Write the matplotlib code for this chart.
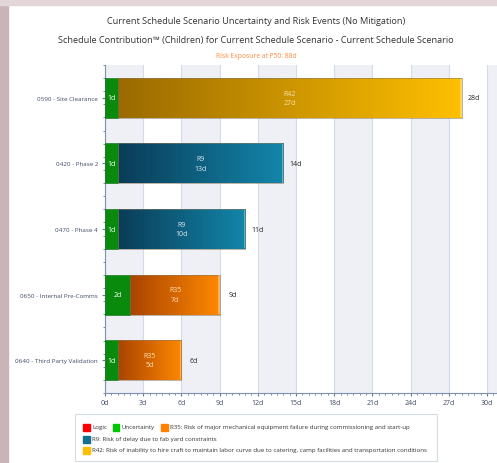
import numpy as np
import matplotlib
matplotlib.use("Agg")
from matplotlib import pyplot as plt
from matplotlib.patches import Rectangle
from matplotlib.colors import LinearSegmentedColormap

plt.rcParams['font.family'] = ['Open Sans', 'DejaVu Sans']

tasks = ["0590 - Site Clearance", "0420 - Phase 2", "0470 - Phase 4",
         "0650 - Internal Pre-Comms", "0640 - Third Party Validation"]
uncertainty = [1, 1, 1, 2, 1]
risk_names = ["R42", "R9", "R9", "R35", "R35"]
risk_values = [27, 13, 10, 7, 5]
totals = [28, 14, 11, 9, 6]
x_ticks = [0, 3, 6, 9, 12, 15, 18, 21, 24, 27, 30]

legend_rows = [
    [("Logic", "#ff0000"), ("Uncertainty", "#00c800"),
     ("R35: Risk of major mechanical equipment failure during commissioning and start-up", "#ff8000")],
    [("R9: Risk of delay due to fab yard constraints", "#15708f")],
    [("R42: Risk of inability to hire craft to maintain labor curve due to catering, camp facilities and transportation conditions", "#ffbf00")],
]

risk_colors = {
    "R42": ("#9a6a00", "#ffc000", "#f5e4b0"),
    "R9": ("#0a3c57", "#1386aa", "#dce9f0"),
    "R35": ("#a94400", "#ff8800", "#ffe0c0"),
}

W, H = 497, 464
fig = plt.figure(figsize=(W / 100, H / 100), dpi=100)
fig.patch.set_facecolor("white")

# screenshot frame
fig.add_artist(Rectangle((0, 0), 8 / W, 1, transform=fig.transFigure, color="#c9b4b7", zorder=0))
fig.add_artist(Rectangle((0, 1 - 6 / H), 1, 6 / H, transform=fig.transFigure, color="#e2d6d8", zorder=0))

ax = fig.add_axes([105 / W, 1 - 394 / H, (W - 105) / W, 328 / H])
xmax = (W - 105) / (382 / 30)
ax.set_xlim(0, xmax)
ax.set_ylim(len(tasks) - 0.5, -0.5)

# alternating bands + grid
for x0 in range(0, 33, 6):
    ax.axvspan(x0, x0 + 3, color="#eef0f6", zorder=0, lw=0)
for x in x_ticks:
    ax.axvline(x, color="#d3dbea", lw=0.8, zorder=0.5)

bar_h = 0.61


def gradient_bar(y, left, width, c0, c1):
    bar = ax.barh(y, width, left=left, height=bar_h, color="none",
                  edgecolor="#8a7a60", lw=0.4, zorder=3)[0]
    cmap = LinearSegmentedColormap.from_list("g", [c0, c1])
    grad = np.linspace(0, 1, 256).reshape(1, -1)
    im = ax.imshow(grad, cmap=cmap, aspect="auto", zorder=2,
                   extent=(left, left + width, y + bar_h / 2, y - bar_h / 2))
    im.set_clip_path(bar)
    # light highlight at the right end of the bar
    ax.barh(y, 0.12, left=left + width - 0.12, height=bar_h * 0.96, color="white",
            alpha=0.35, lw=0, zorder=3)
    return bar


for i, task in enumerate(tasks):
    ax.barh(i, uncertainty[i], height=bar_h, color="#0a8a0c", edgecolor="#0a6a0c", lw=0.4, zorder=3)
    ax.text(uncertainty[i] / 2, i, f"{uncertainty[i]}d", color="white", fontsize=5,
            ha="center", va="center", zorder=4)
    c0, c1, tc = risk_colors[risk_names[i]]
    gradient_bar(i, uncertainty[i], risk_values[i], c0, c1)
    ax.text(uncertainty[i] + risk_values[i] / 2, i, f"{risk_names[i]}\n{risk_values[i]}d",
            color=tc, fontsize=5, ha="center", va="center", linespacing=1.5, zorder=4)
    ax.text(totals[i] + 1, i, f"{totals[i]}d", color="#222222", fontsize=5,
            ha="center", va="center", zorder=4)

ax.set_xlim(0, xmax)
ax.set_ylim(len(tasks) - 0.5, -0.5)

ax.set_xticks(x_ticks)
ax.set_xticklabels([f"{x}d" for x in x_ticks])
ax.set_xticks(np.arange(0, 31, 0.5), minor=True)
ax.set_yticks(range(len(tasks)))
ax.set_yticklabels(tasks)
ax.set_yticks(np.arange(-0.5, len(tasks) - 0.4, 0.2), minor=True)
ax.tick_params(axis="both", labelsize=5, colors="#6a7a9a", labelcolor="#3e4a66")
ax.tick_params(axis="y", labelsize=4.5)
ax.tick_params(axis="x", which="major", length=2.5, pad=2)
ax.tick_params(axis="y", which="major", length=2.5, pad=2.5)
ax.tick_params(which="minor", length=1.2, colors="#6a7a9a")
for s in ["top", "right"]:
    ax.spines[s].set_visible(False)
for s in ["left", "bottom"]:
    ax.spines[s].set_color("#8090b0")
    ax.spines[s].set_linewidth(0.8)
ax.set_facecolor("white")

# titles
fig.text(256 / W, 1 - 21 / H, "Current Schedule Scenario Uncertainty and Risk Events (No Mitigation)",
         ha="center", va="center", fontsize=6.55, color="#333333")
fig.text(256 / W, 1 - 40 / H, "Schedule Contribution™ (Children) for Current Schedule Scenario - Current Schedule Scenario",
         ha="center", va="center", fontsize=6.55, color="#333333")
fig.text(256 / W, 1 - 56 / H, "Risk Exposure at P50: 88d",
         ha="center", va="center", fontsize=4.85, color="#ff8a3d")

# legend box
fig.add_artist(Rectangle((75 / W, 1 - 462 / H), 362 / W, 47 / H, transform=fig.transFigure,
                         facecolor="white", edgecolor="#d5dbe5", lw=0.8, zorder=1))
row_y = [428, 440, 451]
for r, row in enumerate(legend_rows):
    x = 83
    for label, color in row:
        fig.add_artist(Rectangle((x / W, 1 - (row_y[r] + 3.5) / H), 6.5 / W, 6.5 / H,
                                 transform=fig.transFigure, color=color, zorder=2))
        t = fig.text((x + 9) / W, 1 - row_y[r] / H, label, ha="left", va="center",
                     fontsize=4.4, color="#333333", zorder=2)
        fig.canvas.draw()
        bb = t.get_window_extent()
        x = bb.x1 + 6

fig.savefig("out.png", dpi=100)
